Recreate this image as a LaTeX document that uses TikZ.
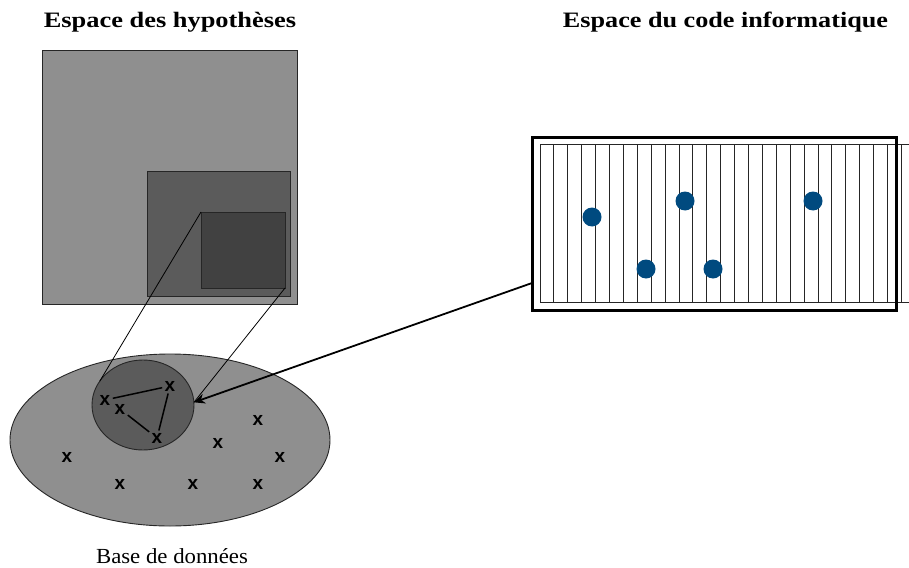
\documentclass[tikz,border=0pt]{standalone}
\usepackage{fontspec}
\setmainfont{Liberation Serif}
\newfontfamily\xfont{Liberation Sans}
\usetikzlibrary{shapes.geometric,calc,arrows.meta}
\definecolor{dotblue}{RGB}{0,74,127}
\definecolor{gA}{RGB}{143,143,143}
\definecolor{gB}{RGB}{91,91,91}
\definecolor{gC}{RGB}{65,65,65}
\begin{document}
\begin{tikzpicture}[x=1pt,y=-1pt,
  sq/.style={draw=black!85, line width=0.9pt, inner sep=0pt, outer sep=0pt, anchor=north west},
  ell/.style={ellipse, draw=black!85, line width=0.9pt, inner sep=0pt, outer sep=0pt},
  xm/.style={font=\xfont\bfseries\fontsize{19}{19}\selectfont, inner sep=0pt, outer sep=2.5pt},
  dot/.style={circle, fill=dotblue, minimum size=19pt, inner sep=0pt},
  title/.style={font=\bfseries\fontsize{22}{22}\selectfont, anchor=base, inner sep=0pt},
  thin/.style={draw=black, line width=0.8pt},
  tri/.style={draw=black, line width=1.5pt}]
\useasboundingbox (0,0) rectangle (909,567);

% titles
\node[title] (t1) at (170,28) {\scalebox{1.2}[1]{Espace des hypothèses}};
\node[title] (t2) at (725.5,28) {\scalebox{1.19}[1]{Espace du code informatique}};

% nested squares
\node[sq, fill=gA, minimum width=255pt, minimum height=254pt] (sqA) at (42,50) {};
\node[sq, fill=gB, minimum width=143pt, minimum height=125pt] (sqB) at (147,171) {};
\node[sq, fill=gC, minimum width=84pt, minimum height=76pt] (sqC) at (201,212) {};

% database ellipse
\node[ell, fill=gA, minimum width=320pt, minimum height=172pt] (db) at (170,440) {};
\node[ell, fill=gB, minimum width=102pt, minimum height=90pt] (circ) at (143,405) {};

% projection lines
\draw[thin] (sqC.north west) -- (circ.151);
\draw[thin] (sqC.south east) -- (circ.3);

% x marks
\node[xm] (x1) at (105,400) {x};
\node[xm] (x2) at (120,409) {x};
\node[xm] (x3) at (170,386) {x};
\node[xm] (x4) at (157,438) {x};
\node[xm] (x5) at (258,420) {x};
\node[xm] (x6) at (218,443) {x};
\node[xm] (x7) at (280,457) {x};
\node[xm] (x8) at (67,457) {x};
\node[xm] (x9) at (120,484) {x};
\node[xm] (x10) at (193,484) {x};
\node[xm] (x11) at (258,484) {x};

\draw[tri] (x1) -- (x3);
\draw[tri] (x3) -- (x4);
\draw[tri] (x2) -- (x4);

% label
\node[font=\fontsize{21.5}{21.5}\selectfont, anchor=base, inner sep=0pt] (lab) at (172,563) {\scalebox{1.06}[1]{Base de données}};

% code space
\draw[draw=black!85, line width=0.9pt] (909,144) -- (540,144) -- (540,302) -- (909,302);
\foreach \k in {1,...,26} {
  \draw[draw=black!85, line width=0.9pt] ({540+13.9*\k},144) -- ({540+13.9*\k},302);
}
\node[draw=black, line width=3pt, inner sep=0pt, outer sep=0pt, anchor=north west,
      minimum width=364pt, minimum height=173pt] (code) at (532,137) {};

\node[dot] (d1) at (592,217) {};
\node[dot] (d2) at (685,201) {};
\node[dot] (d3) at (813,201) {};
\node[dot] (d4) at (646,269) {};
\node[dot] (d5) at (713,269) {};

% arrow
\coordinate (src) at ($(code.south west)!0.156!(code.north west)$);
\draw[draw=black, line width=1.8pt, -{Stealth[length=11pt,width=10pt]}] (src) -- (circ.3);
\end{tikzpicture}
\end{document}
